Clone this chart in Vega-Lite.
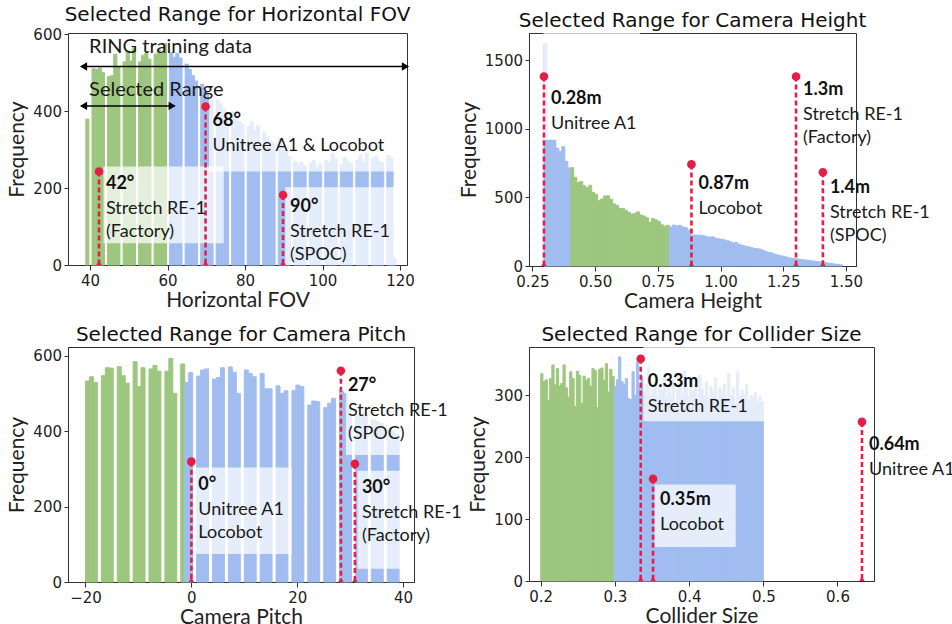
{
"$schema": "https://vega.github.io/schema/vega-lite/v6.json",
"background": "white",
"padding": {"left": 6, "top": 4, "right": 0, "bottom": 0},
"config": {
 "font": "Lato",
 "view": {"stroke": "#333", "strokeWidth": 1},
 "axis": {"labelFont": "DejaVu Sans", "labelFontSize": 15, "labelColor": "#222", "titleFont": "Lato", "titleFontSize": 21, "titleFontWeight": "normal", "titleColor": "#222", "grid": false, "domainColor": "#333", "tickColor": "#333", "tickSize": 5, "labelPadding": 3, "labelFlush": false, "labelOverlap": false},
 "axisX": {"titlePadding": 1},
 "axisY": {"titlePadding": 5, "tickSize": 4, "labelPadding": 2.5, "format": "d"},
 "title": {"font": "DejaVu Sans", "fontSize": 20, "fontWeight": "normal", "color": "#111", "offset": 2}
},
"datasets": {
 "d1": [
  {"v":39.6,"c":379,"g":"s"},{"v":40.6,"c":510,"g":"s"},{"v":41.6,"c":508,"g":"s"},{"v":42.6,"c":512,"g":"s"},{"v":43.6,"c":500,"g":"s"},{"v":44.6,"c":490,"g":"s"},{"v":45.6,"c":492,"g":"s"},{"v":46.6,"c":548,"g":"s"},{"v":47.6,"c":515,"g":"s"},{"v":48.6,"c":528,"g":"s"},{"v":49.6,"c":556,"g":"s"},{"v":50.6,"c":530,"g":"s"},{"v":51.6,"c":562,"g":"s"},{"v":52.6,"c":528,"g":"s"},{"v":53.6,"c":545,"g":"s"},{"v":54.6,"c":550,"g":"s"},{"v":55.6,"c":535,"g":"s"},{"v":56.6,"c":548,"g":"s"},{"v":57.6,"c":560,"g":"s"},{"v":58.6,"c":552,"g":"s"},{"v":59.6,"c":576,"g":"s"},
  {"v":60.6,"c":552,"g":"o"},{"v":61.6,"c":540,"g":"o"},{"v":62.6,"c":550,"g":"o"},{"v":63.6,"c":538,"g":"o"},{"v":64.6,"c":522,"g":"o"},{"v":65.6,"c":508,"g":"o"},{"v":66.6,"c":492,"g":"o"},{"v":67.6,"c":478,"g":"o"},{"v":68.6,"c":470,"g":"o"},{"v":69.6,"c":452,"g":"o"},{"v":70.6,"c":440,"g":"o"},{"v":71.6,"c":428,"g":"o"},{"v":72.6,"c":430,"g":"o"},{"v":73.6,"c":420,"g":"o"},{"v":74.6,"c":405,"g":"o"},{"v":75.6,"c":392,"g":"o"},{"v":76.6,"c":398,"g":"o"},{"v":77.6,"c":385,"g":"o"},{"v":78.6,"c":372,"g":"o"},{"v":79.6,"c":365,"g":"o"},{"v":80.6,"c":360,"g":"o"},{"v":81.6,"c":372,"g":"o"},{"v":82.6,"c":350,"g":"o"},{"v":83.6,"c":362,"g":"o"},{"v":84.6,"c":346,"g":"o"},{"v":85.6,"c":332,"g":"o"},{"v":86.6,"c":322,"g":"o"},{"v":87.6,"c":316,"g":"o"},{"v":88.6,"c":330,"g":"o"},{"v":89.6,"c":300,"g":"o"},{"v":90.6,"c":295,"g":"o"},{"v":91.6,"c":282,"g":"o"},{"v":92.6,"c":268,"g":"o"},{"v":93.6,"c":262,"g":"o"},{"v":94.6,"c":268,"g":"o"},{"v":95.6,"c":258,"g":"o"},{"v":96.6,"c":265,"g":"o"},{"v":97.6,"c":272,"g":"o"},{"v":98.6,"c":255,"g":"o"},{"v":99.6,"c":262,"g":"o"},{"v":100.6,"c":272,"g":"o"},{"v":101.6,"c":266,"g":"o"},{"v":102.6,"c":290,"g":"o"},{"v":103.6,"c":275,"g":"o"},{"v":104.6,"c":262,"g":"o"},{"v":105.6,"c":280,"g":"o"},{"v":106.6,"c":270,"g":"o"},{"v":107.6,"c":264,"g":"o"},{"v":108.6,"c":272,"g":"o"},{"v":109.6,"c":286,"g":"o"},{"v":110.6,"c":268,"g":"o"},{"v":111.6,"c":290,"g":"o"},{"v":112.6,"c":278,"g":"o"},{"v":113.6,"c":282,"g":"o"},{"v":114.6,"c":270,"g":"o"},{"v":115.6,"c":266,"g":"o"},{"v":116.6,"c":285,"g":"o"},{"v":117.6,"c":278,"g":"o"},{"v":118.6,"c":18,"g":"o"}
 ],
 "b1": [
  {"x":43.45,"x2":74.5,"y":56.4,"y2":255.7},
  {"x":70.7,"x2":125,"y":242.7,"y2":470},
  {"x":90.4,"x2":125,"y":-10,"y2":202}
 ],
 "m1": [
  {"x":42.3,"top":243,"ly":197,"val":"42°","desc":"Stretch RE-1\n(Factory)"},
  {"x":69.8,"top":412,"ly":360,"val":"68°","desc":"Unitree A1 & Locobot"},
  {"x":89.8,"top":182,"ly":139,"val":"90°","desc":"Stretch RE-1\n(SPOC)"}
 ],
 "a1": [
  {"x":38.3,"x2":121.4,"y":516,"t":"RING training data","tx":39.75,"ty":552},
  {"x":38.3,"x2":61.2,"y":413.5,"t":"Selected Range","tx":39.75,"ty":440}
 ],
 "d2": [
  {"v":0.30195,"c":1620,"g":"o"},{"v":0.31385,"c":920,"g":"o"},{"v":0.32575,"c":922,"g":"o"},{"v":0.33765,"c":918,"g":"o"},{"v":0.34955,"c":858,"g":"o"},{"v":0.36145,"c":834,"g":"o"},{"v":0.37335,"c":870,"g":"o"},{"v":0.38525,"c":762,"g":"o"},{"v":0.39715,"c":714,"g":"o"},
  {"v":0.40905,"c":716,"g":"s"},{"v":0.42095,"c":645,"g":"s"},{"v":0.43285,"c":608,"g":"s"},{"v":0.44475,"c":615,"g":"s"},{"v":0.45665,"c":584,"g":"s"},{"v":0.46855,"c":570,"g":"s"},{"v":0.48045,"c":588,"g":"s"},{"v":0.49235,"c":536,"g":"s"},{"v":0.50425,"c":522,"g":"s"},{"v":0.51615,"c":476,"g":"s"},{"v":0.52805,"c":488,"g":"s"},{"v":0.53995,"c":510,"g":"s"},{"v":0.55185,"c":512,"g":"s"},{"v":0.56375,"c":486,"g":"s"},{"v":0.57565,"c":452,"g":"s"},{"v":0.58755,"c":440,"g":"s"},{"v":0.59945,"c":420,"g":"s"},{"v":0.61135,"c":418,"g":"s"},{"v":0.62325,"c":406,"g":"s"},{"v":0.63515,"c":390,"g":"s"},{"v":0.64705,"c":378,"g":"s"},{"v":0.65895,"c":384,"g":"s"},{"v":0.67085,"c":394,"g":"s"},{"v":0.68275,"c":372,"g":"s"},{"v":0.69465,"c":364,"g":"s"},{"v":0.70655,"c":352,"g":"s"},{"v":0.71845,"c":318,"g":"s"},{"v":0.73035,"c":346,"g":"s"},{"v":0.74225,"c":336,"g":"s"},{"v":0.75415,"c":326,"g":"s"},{"v":0.76605,"c":300,"g":"s"},{"v":0.77795,"c":290,"g":"s"},{"v":0.78985,"c":296,"g":"s"},
  {"v":0.80175,"c":284,"g":"o"},{"v":0.81365,"c":298,"g":"o"},{"v":0.82555,"c":292,"g":"o"},{"v":0.83745,"c":296,"g":"o"},{"v":0.84935,"c":285,"g":"o"},{"v":0.86125,"c":280,"g":"o"},{"v":0.87315,"c":262,"g":"o"},{"v":0.88505,"c":250,"g":"o"},{"v":0.89695,"c":238,"g":"o"},{"v":0.90885,"c":232,"g":"o"},{"v":0.92075,"c":228,"g":"o"},{"v":0.93265,"c":220,"g":"o"},{"v":0.94455,"c":214,"g":"o"},{"v":0.95645,"c":210,"g":"o"},{"v":0.96835,"c":212,"g":"o"},{"v":0.98025,"c":203,"g":"o"},{"v":0.99215,"c":198,"g":"o"},{"v":1.00405,"c":195,"g":"o"},{"v":1.01595,"c":190,"g":"o"},{"v":1.02785,"c":184,"g":"o"},{"v":1.03975,"c":176,"g":"o"},{"v":1.05165,"c":168,"g":"o"},{"v":1.06355,"c":170,"g":"o"},{"v":1.07545,"c":158,"g":"o"},{"v":1.08735,"c":150,"g":"o"},{"v":1.09925,"c":145,"g":"o"},{"v":1.11115,"c":140,"g":"o"},{"v":1.12305,"c":135,"g":"o"},{"v":1.13495,"c":128,"g":"o"},{"v":1.14685,"c":126,"g":"o"},{"v":1.15875,"c":122,"g":"o"},{"v":1.17065,"c":112,"g":"o"},{"v":1.18255,"c":104,"g":"o"},{"v":1.19445,"c":98,"g":"o"},{"v":1.20635,"c":94,"g":"o"},{"v":1.21825,"c":86,"g":"o"},{"v":1.23015,"c":80,"g":"o"},{"v":1.24205,"c":74,"g":"o"},{"v":1.25395,"c":70,"g":"o"},{"v":1.26585,"c":64,"g":"o"},{"v":1.27775,"c":58,"g":"o"},{"v":1.28965,"c":55,"g":"o"},{"v":1.30155,"c":52,"g":"o"},{"v":1.31345,"c":50,"g":"o"},{"v":1.32535,"c":46,"g":"o"},{"v":1.33725,"c":44,"g":"o"},{"v":1.34915,"c":42,"g":"o"},{"v":1.36105,"c":38,"g":"o"},{"v":1.37295,"c":36,"g":"o"},{"v":1.38485,"c":32,"g":"o"},{"v":1.39675,"c":30,"g":"o"},{"v":1.40865,"c":28,"g":"o"},{"v":1.42055,"c":24,"g":"o"},{"v":1.43245,"c":20,"g":"o"},{"v":1.44435,"c":18,"g":"o"},{"v":1.45625,"c":14,"g":"o"},{"v":1.46815,"c":12,"g":"o"},{"v":1.48005,"c":8,"g":"o"}
 ],
 "b2": [
  {"x":0.294,"x2":0.68,"y":918,"y2":1750},
  {"x":0.884,"x2":1.04,"y":225,"y2":720}
 ],
 "m2": [
  {"x":0.296,"top":1380,"ly":1178,"val":"0.28m","desc":"Unitree A1"},
  {"x":0.884,"top":740,"ly":558,"val":"0.87m","desc":"Locobot"},
  {"x":1.301,"top":1380,"ly":1243,"val":"1.3m","desc":"Stretch RE-1\n(Factory)"},
  {"x":1.408,"top":683,"ly":534,"val":"1.4m","desc":"Stretch RE-1\n(SPOC)"}
 ],
 "d3": [
  {"v":-19.9,"c":533,"g":"s"},{"v":-18.9,"c":544,"g":"s"},{"v":-17.9,"c":529,"g":"s"},{"v":-16.9,"c":547,"g":"s"},{"v":-15.9,"c":568,"g":"s"},{"v":-14.9,"c":567,"g":"s"},{"v":-13.9,"c":571,"g":"s"},{"v":-12.9,"c":547,"g":"s"},{"v":-11.9,"c":527,"g":"s"},{"v":-10.9,"c":584,"g":"s"},{"v":-9.9,"c":518,"g":"s"},{"v":-8.9,"c":568,"g":"s"},{"v":-7.9,"c":565,"g":"s"},{"v":-6.9,"c":574,"g":"s"},{"v":-5.9,"c":559,"g":"s"},{"v":-4.9,"c":559,"g":"s"},{"v":-3.9,"c":593,"g":"s"},{"v":-2.9,"c":500,"g":"s"},{"v":-1.9,"c":578,"g":"s"},
  {"v":-0.9,"c":529,"g":"o"},{"v":0.1,"c":555,"g":"o"},{"v":1.1,"c":546,"g":"o"},{"v":2.1,"c":562,"g":"o"},{"v":3.1,"c":565,"g":"o"},{"v":4.1,"c":538,"g":"o"},{"v":5.1,"c":542,"g":"o"},{"v":6.1,"c":568,"g":"o"},{"v":7.1,"c":570,"g":"o"},{"v":8.1,"c":556,"g":"o"},{"v":9.1,"c":500,"g":"o"},{"v":10.1,"c":562,"g":"o"},{"v":11.1,"c":553,"g":"o"},{"v":12.1,"c":544,"g":"o"},{"v":13.1,"c":553,"g":"o"},{"v":14.1,"c":512,"g":"o"},{"v":15.1,"c":512,"g":"o"},{"v":16.1,"c":520,"g":"o"},{"v":17.1,"c":500,"g":"o"},{"v":18.1,"c":507,"g":"o"},{"v":19.1,"c":508,"g":"o"},{"v":20.1,"c":522,"g":"o"},{"v":21.1,"c":518,"g":"o"},{"v":22.1,"c":469,"g":"o"},{"v":23.1,"c":480,"g":"o"},{"v":24.1,"c":478,"g":"o"},{"v":25.1,"c":462,"g":"o"},{"v":26.1,"c":474,"g":"o"},{"v":27.1,"c":487,"g":"o"},{"v":28.1,"c":505,"g":"o"},{"v":29.1,"c":500,"g":"o"},{"v":30.1,"c":460,"g":"o"},{"v":31.1,"c":445,"g":"o"},{"v":32.1,"c":440,"g":"o"},{"v":33.1,"c":450,"g":"o"},{"v":34.1,"c":430,"g":"o"},{"v":35.1,"c":425,"g":"o"},{"v":36.1,"c":420,"g":"o"},{"v":37.1,"c":408,"g":"o"},{"v":38.1,"c":400,"g":"o"},{"v":39.1,"c":392,"g":"o"}
 ],
 "b3": [
  {"x":0.62,"x2":18.95,"y":74,"y2":303.5},
  {"x":29.2,"x2":45,"y":337,"y2":620},
  {"x":31.4,"x2":45,"y":35,"y2":295}
 ],
 "m3": [
  {"x":0,"top":319,"ly":244.5,"val":"0°","desc":"Unitree A1\nLocobot"},
  {"x":28.25,"top":560,"ly":507,"val":"27°","desc":"Stretch RE-1\n(SPOC)"},
  {"x":30.9,"top":313,"ly":235.6,"val":"30°","desc":"Stretch RE-1\n(Factory)"}
 ],
 "d4": [
  {"v":0.2015,"c":335,"g":"s"},{"v":0.2045,"c":322,"g":"s"},{"v":0.2075,"c":325,"g":"s"},{"v":0.2105,"c":292,"g":"s"},{"v":0.2135,"c":327,"g":"s"},{"v":0.2165,"c":349,"g":"s"},{"v":0.2195,"c":317,"g":"s"},{"v":0.2225,"c":343,"g":"s"},{"v":0.2255,"c":315,"g":"s"},{"v":0.2285,"c":319,"g":"s"},{"v":0.2315,"c":349,"g":"s"},{"v":0.2345,"c":312,"g":"s"},{"v":0.2375,"c":297,"g":"s"},{"v":0.2405,"c":338,"g":"s"},{"v":0.2435,"c":327,"g":"s"},{"v":0.2465,"c":282,"g":"s"},{"v":0.2495,"c":339,"g":"s"},{"v":0.2525,"c":332,"g":"s"},{"v":0.2555,"c":287,"g":"s"},{"v":0.2585,"c":331,"g":"s"},{"v":0.2615,"c":324,"g":"s"},{"v":0.2645,"c":327,"g":"s"},{"v":0.2675,"c":314,"g":"s"},{"v":0.2705,"c":343,"g":"s"},{"v":0.2735,"c":340,"g":"s"},{"v":0.2765,"c":280,"g":"s"},{"v":0.2795,"c":342,"g":"s"},{"v":0.2825,"c":344,"g":"s"},{"v":0.2855,"c":324,"g":"s"},{"v":0.2885,"c":351,"g":"s"},{"v":0.2915,"c":305,"g":"s"},{"v":0.2945,"c":342,"g":"s"},{"v":0.2975,"c":330,"g":"s"},
  {"v":0.3005,"c":314,"g":"o"},{"v":0.3035,"c":325,"g":"o"},{"v":0.3065,"c":362,"g":"o"},{"v":0.3095,"c":322,"g":"o"},{"v":0.3125,"c":318,"g":"o"},{"v":0.3155,"c":327,"g":"o"},{"v":0.3185,"c":295,"g":"o"},{"v":0.3215,"c":293,"g":"o"},{"v":0.3245,"c":338,"g":"o"},{"v":0.3275,"c":300,"g":"o"},{"v":0.3305,"c":354,"g":"o"},{"v":0.3335,"c":312,"g":"o"},{"v":0.3365,"c":330,"g":"o"},{"v":0.3395,"c":305,"g":"o"},{"v":0.3425,"c":318,"g":"o"},{"v":0.3455,"c":345,"g":"o"},{"v":0.3485,"c":300,"g":"o"},{"v":0.3515,"c":310,"g":"o"},{"v":0.3545,"c":322,"g":"o"},{"v":0.3575,"c":296,"g":"o"},{"v":0.3605,"c":315,"g":"o"},{"v":0.3635,"c":308,"g":"o"},{"v":0.3665,"c":330,"g":"o"},{"v":0.3695,"c":298,"g":"o"},{"v":0.3725,"c":318,"g":"o"},{"v":0.3755,"c":302,"g":"o"},{"v":0.3785,"c":325,"g":"o"},{"v":0.3815,"c":288,"g":"o"},{"v":0.3845,"c":310,"g":"o"},{"v":0.3875,"c":320,"g":"o"},{"v":0.3905,"c":300,"g":"o"},{"v":0.3935,"c":340,"g":"o"},{"v":0.3965,"c":312,"g":"o"},{"v":0.3995,"c":298,"g":"o"},{"v":0.4025,"c":326,"g":"o"},{"v":0.4055,"c":306,"g":"o"},{"v":0.4085,"c":318,"g":"o"},{"v":0.4115,"c":290,"g":"o"},{"v":0.4145,"c":332,"g":"o"},{"v":0.4175,"c":310,"g":"o"},{"v":0.4205,"c":300,"g":"o"},{"v":0.4235,"c":322,"g":"o"},{"v":0.4265,"c":296,"g":"o"},{"v":0.4295,"c":314,"g":"o"},{"v":0.4325,"c":304,"g":"o"},{"v":0.4355,"c":328,"g":"o"},{"v":0.4385,"c":292,"g":"o"},{"v":0.4415,"c":312,"g":"o"},{"v":0.4445,"c":306,"g":"o"},{"v":0.4475,"c":318,"g":"o"},{"v":0.4505,"c":296,"g":"o"},{"v":0.4535,"c":335,"g":"o"},{"v":0.4565,"c":300,"g":"o"},{"v":0.4595,"c":312,"g":"o"},{"v":0.4625,"c":285,"g":"o"},{"v":0.4655,"c":338,"g":"o"},{"v":0.4685,"c":298,"g":"o"},{"v":0.4715,"c":308,"g":"o"},{"v":0.4745,"c":302,"g":"o"},{"v":0.4775,"c":318,"g":"o"},{"v":0.4805,"c":292,"g":"o"},{"v":0.4835,"c":300,"g":"o"},{"v":0.4865,"c":296,"g":"o"},{"v":0.4895,"c":304,"g":"o"},{"v":0.4925,"c":288,"g":"o"},{"v":0.4955,"c":298,"g":"o"},{"v":0.4985,"c":290,"g":"o"}
 ],
 "b4": [
  {"x":0.3384,"x2":0.51,"y":258,"y2":400},
  {"x":0.3536,"x2":0.4628,"y":55,"y2":156}
 ],
 "m4": [
  {"x":0.3348,"top":359,"ly":313.5,"val":"0.33m","desc":"Stretch RE-1"},
  {"x":0.3514,"top":165,"ly":122,"val":"0.35m","desc":"Locobot"},
  {"x":0.633,"top":257,"ly":211,"val":"0.64m","desc":"Unitree A1"}
 ]
},
"bounds": "flush",
"columns": 2,
"spacing": {"row": 81, "column": 115},
"concat": [
  {"width": 339, "height": 232, "title": "Selected Range for Horizontal FOV",
   "layer": [
    {"data": {"name": "d1"}, "transform": [{"bin": {"step": 0.801, "extent": [38.9, 119.8], "nice": false}, "field": "v", "as": ["b0", "b1"]}],
     "mark": {"type": "rect", "strokeWidth": 1},
     "encoding": {
      "x": {"field": "b0", "type": "quantitative", "title": "Horizontal FOV", "scale": {"domain": [34.3, 121.8], "nice": false, "zero": false}, "axis": {"values": [40, 60, 80, 100, 120]}},
      "x2": {"field": "b1"},
      "y": {"field": "c", "type": "quantitative", "title": "Frequency", "scale": {"domain": [0, 603], "nice": false}, "axis": {"values": [0, 100, 200, 300, 400, 500, 600]}},
      "y2": {"datum": 0},
      "fill": {"field": "g", "type": "nominal", "scale": {"domain": ["s", "o"], "range": ["#9dc67f", "#a1bdf0"]}, "legend": null},
      "stroke": {"field": "g", "type": "nominal", "scale": {"domain": ["s", "o"], "range": ["#9dc67f", "#a1bdf0"]}, "legend": null}}},
    {"data": {"name": "b1"}, "mark": {"type": "rect", "fill": "white", "opacity": 0.72, "clip": true},
     "encoding": {"x": {"field": "x", "type": "quantitative", "title": "Horizontal FOV"}, "x2": {"field": "x2"}, "y": {"field": "y", "type": "quantitative", "title": "Frequency"}, "y2": {"field": "y2"}}},
    {"data": {"name": "m1"}, "mark": {"type": "rule", "color": "#e41e46", "strokeWidth": 2.6, "strokeDash": [5, 3]},
     "encoding": {"x": {"field": "x", "type": "quantitative", "title": "Horizontal FOV"}, "y": {"field": "top", "type": "quantitative", "title": "Frequency"}, "y2": {"datum": 0}}},
    {"data": {"name": "m1"}, "mark": {"type": "point", "shape": "circle", "filled": true, "size": 75, "color": "#e41e46", "opacity": 1},
     "encoding": {"x": {"field": "x", "type": "quantitative", "title": "Horizontal FOV"}, "y": {"field": "top", "type": "quantitative", "title": "Frequency"}}},
    {"data": {"name": "m1"}, "mark": {"type": "point", "shape": "triangle-up", "filled": true, "size": 110, "color": "#e41e46", "opacity": 1, "clip": true},
     "encoding": {"x": {"field": "x", "type": "quantitative", "title": "Horizontal FOV"}, "y": {"datum": 0}}},
    {"data": {"name": "m1"}, "mark": {"type": "text", "align": "left", "baseline": "alphabetic", "dx": 7, "font": "Lato", "fontSize": 18, "fontWeight": "bold", "color": "#111"},
     "encoding": {"x": {"field": "x", "type": "quantitative", "title": "Horizontal FOV"}, "y": {"field": "ly", "type": "quantitative", "title": "Frequency"}, "text": {"field": "val"}}},
    {"data": {"name": "m1"}, "mark": {"type": "text", "align": "left", "baseline": "alphabetic", "dx": 7, "dy": 25, "lineBreak": "\n", "lineHeight": 23, "font": "Lato", "fontSize": 18, "color": "#1a1a1a"},
     "encoding": {"x": {"field": "x", "type": "quantitative", "title": "Horizontal FOV"}, "y": {"field": "ly", "type": "quantitative", "title": "Frequency"}, "text": {"field": "desc"}}},
    {"data": {"name": "a1"}, "mark": {"type": "rule", "color": "black", "strokeWidth": 1.5},
     "encoding": {"x": {"field": "x", "type": "quantitative", "title": "Horizontal FOV"}, "x2": {"field": "x2"}, "y": {"field": "y", "type": "quantitative", "title": "Frequency"}}},
    {"data": {"name": "a1"}, "mark": {"type": "point", "shape": "triangle-left", "filled": true, "size": 70, "color": "black", "opacity": 1},
     "encoding": {"x": {"field": "x", "type": "quantitative", "title": "Horizontal FOV"}, "y": {"field": "y", "type": "quantitative", "title": "Frequency"}}},
    {"data": {"name": "a1"}, "mark": {"type": "point", "shape": "triangle-right", "filled": true, "size": 70, "color": "black", "opacity": 1},
     "encoding": {"x": {"field": "x2", "type": "quantitative", "title": "Horizontal FOV"}, "y": {"field": "y", "type": "quantitative", "title": "Frequency"}}},
    {"data": {"name": "a1"}, "mark": {"type": "text", "align": "left", "baseline": "alphabetic", "font": "Lato", "fontSize": 20, "color": "#1a1a1a"},
     "encoding": {"x": {"field": "tx", "type": "quantitative", "title": "Horizontal FOV"}, "y": {"field": "ty", "type": "quantitative", "title": "Frequency"}, "text": {"field": "t"}}}
   ]},
  {"width": 327, "height": 233, "title": "Selected Range for Camera Height",
   "layer": [
    {"data": {"name": "d2"}, "transform": [{"bin": {"step": 0.0119, "extent": [0.296, 1.4979], "nice": false}, "field": "v", "as": ["b0", "b1"]}],
     "mark": {"type": "rect", "strokeWidth": 1},
     "encoding": {
      "x": {"field": "b0", "type": "quantitative", "title": "Camera Height", "scale": {"domain": [0.2365, 1.54], "nice": false, "zero": false}, "axis": {"values": [0.25, 0.5, 0.75, 1, 1.25, 1.5], "format": ".2f"}},
      "x2": {"field": "b1"},
      "y": {"field": "c", "type": "quantitative", "title": "Frequency", "scale": {"domain": [0, 1697], "nice": false}, "axis": {"values": [0, 250, 500, 750, 1000, 1250, 1500]}},
      "y2": {"datum": 0},
      "fill": {"field": "g", "type": "nominal", "scale": {"domain": ["s", "o"], "range": ["#9dc67f", "#a1bdf0"]}, "legend": null},
      "stroke": {"field": "g", "type": "nominal", "scale": {"domain": ["s", "o"], "range": ["#9dc67f", "#a1bdf0"]}, "legend": null}}},
    {"data": {"name": "b2"}, "mark": {"type": "rect", "fill": "white", "opacity": 0.72, "clip": true},
     "encoding": {"x": {"field": "x", "type": "quantitative", "title": "Camera Height"}, "x2": {"field": "x2"}, "y": {"field": "y", "type": "quantitative", "title": "Frequency"}, "y2": {"field": "y2"}}},
    {"data": {"name": "m2"}, "mark": {"type": "rule", "color": "#e41e46", "strokeWidth": 2.6, "strokeDash": [5, 3]},
     "encoding": {"x": {"field": "x", "type": "quantitative", "title": "Camera Height"}, "y": {"field": "top", "type": "quantitative", "title": "Frequency"}, "y2": {"datum": 0}}},
    {"data": {"name": "m2"}, "mark": {"type": "point", "shape": "circle", "filled": true, "size": 75, "color": "#e41e46", "opacity": 1},
     "encoding": {"x": {"field": "x", "type": "quantitative", "title": "Camera Height"}, "y": {"field": "top", "type": "quantitative", "title": "Frequency"}}},
    {"data": {"name": "m2"}, "mark": {"type": "point", "shape": "triangle-up", "filled": true, "size": 110, "color": "#e41e46", "opacity": 1, "clip": true},
     "encoding": {"x": {"field": "x", "type": "quantitative", "title": "Camera Height"}, "y": {"datum": 0}}},
    {"data": {"name": "m2"}, "mark": {"type": "text", "align": "left", "baseline": "alphabetic", "dx": 7, "font": "Lato", "fontSize": 18, "fontWeight": "bold", "color": "#111"},
     "encoding": {"x": {"field": "x", "type": "quantitative", "title": "Camera Height"}, "y": {"field": "ly", "type": "quantitative", "title": "Frequency"}, "text": {"field": "val"}}},
    {"data": {"name": "m2"}, "mark": {"type": "text", "align": "left", "baseline": "alphabetic", "dx": 7, "dy": 25, "lineBreak": "\n", "lineHeight": 23, "font": "Lato", "fontSize": 18, "color": "#1a1a1a"},
     "encoding": {"x": {"field": "x", "type": "quantitative", "title": "Camera Height"}, "y": {"field": "ly", "type": "quantitative", "title": "Frequency"}, "text": {"field": "desc"}}}
   ]},
  {"width": 346, "height": 235, "title": "Selected Range for Camera Pitch",
   "layer": [
    {"data": {"name": "d3"}, "transform": [{"bin": {"step": 0.75, "extent": [-20, 40.75], "nice": false}, "field": "v", "as": ["b0", "b1"]}],
     "mark": {"type": "rect", "strokeWidth": 1},
     "encoding": {
      "x": {"field": "b0", "type": "quantitative", "title": "Camera Pitch", "scale": {"domain": [-23.3, 42.06], "nice": false, "zero": false}, "axis": {"values": [-20, 0, 20, 40]}},
      "x2": {"field": "b1"},
      "y": {"field": "c", "type": "quantitative", "title": "Frequency", "scale": {"domain": [0, 623], "nice": false}, "axis": {"values": [0, 100, 200, 300, 400, 500, 600]}},
      "y2": {"datum": 0},
      "fill": {"field": "g", "type": "nominal", "scale": {"domain": ["s", "o"], "range": ["#9dc67f", "#a1bdf0"]}, "legend": null},
      "stroke": {"field": "g", "type": "nominal", "scale": {"domain": ["s", "o"], "range": ["#9dc67f", "#a1bdf0"]}, "legend": null}}},
    {"data": {"name": "b3"}, "mark": {"type": "rect", "fill": "white", "opacity": 0.72, "clip": true},
     "encoding": {"x": {"field": "x", "type": "quantitative", "title": "Camera Pitch"}, "x2": {"field": "x2"}, "y": {"field": "y", "type": "quantitative", "title": "Frequency"}, "y2": {"field": "y2"}}},
    {"data": {"name": "m3"}, "mark": {"type": "rule", "color": "#e41e46", "strokeWidth": 2.6, "strokeDash": [5, 3]},
     "encoding": {"x": {"field": "x", "type": "quantitative", "title": "Camera Pitch"}, "y": {"field": "top", "type": "quantitative", "title": "Frequency"}, "y2": {"datum": 0}}},
    {"data": {"name": "m3"}, "mark": {"type": "point", "shape": "circle", "filled": true, "size": 75, "color": "#e41e46", "opacity": 1},
     "encoding": {"x": {"field": "x", "type": "quantitative", "title": "Camera Pitch"}, "y": {"field": "top", "type": "quantitative", "title": "Frequency"}}},
    {"data": {"name": "m3"}, "mark": {"type": "point", "shape": "triangle-up", "filled": true, "size": 110, "color": "#e41e46", "opacity": 1, "clip": true},
     "encoding": {"x": {"field": "x", "type": "quantitative", "title": "Camera Pitch"}, "y": {"datum": 0}}},
    {"data": {"name": "m3"}, "mark": {"type": "text", "align": "left", "baseline": "alphabetic", "dx": 7, "font": "Lato", "fontSize": 18, "fontWeight": "bold", "color": "#111"},
     "encoding": {"x": {"field": "x", "type": "quantitative", "title": "Camera Pitch"}, "y": {"field": "ly", "type": "quantitative", "title": "Frequency"}, "text": {"field": "val"}}},
    {"data": {"name": "m3"}, "mark": {"type": "text", "align": "left", "baseline": "alphabetic", "dx": 7, "dy": 25, "lineBreak": "\n", "lineHeight": 23, "font": "Lato", "fontSize": 18, "color": "#1a1a1a"},
     "encoding": {"x": {"field": "x", "type": "quantitative", "title": "Camera Pitch"}, "y": {"field": "ly", "type": "quantitative", "title": "Frequency"}, "text": {"field": "desc"}}}
   ]},
  {"width": 345, "height": 234, "title": "Selected Range for Collider Size",
   "layer": [
    {"data": {"name": "d4"}, "transform": [{"bin": {"step": 0.003, "extent": [0.2, 0.503], "nice": false}, "field": "v", "as": ["b0", "b1"]}],
     "mark": {"type": "rect", "strokeWidth": 1},
     "encoding": {
      "x": {"field": "b0", "type": "quantitative", "title": "Collider Size", "scale": {"domain": [0.1842, 0.6492], "nice": false, "zero": false}, "axis": {"values": [0.2, 0.3, 0.4, 0.5, 0.6], "format": ".1f"}},
      "x2": {"field": "b1"},
      "y": {"field": "c", "type": "quantitative", "title": "Frequency", "scale": {"domain": [0, 378], "nice": false}, "axis": {"values": [0, 100, 200, 300]}},
      "y2": {"datum": 0},
      "fill": {"field": "g", "type": "nominal", "scale": {"domain": ["s", "o"], "range": ["#9dc67f", "#a1bdf0"]}, "legend": null},
      "stroke": {"field": "g", "type": "nominal", "scale": {"domain": ["s", "o"], "range": ["#9dc67f", "#a1bdf0"]}, "legend": null}}},
    {"data": {"name": "b4"}, "mark": {"type": "rect", "fill": "white", "opacity": 0.72, "clip": true},
     "encoding": {"x": {"field": "x", "type": "quantitative", "title": "Collider Size"}, "x2": {"field": "x2"}, "y": {"field": "y", "type": "quantitative", "title": "Frequency"}, "y2": {"field": "y2"}}},
    {"data": {"name": "m4"}, "mark": {"type": "rule", "color": "#e41e46", "strokeWidth": 2.6, "strokeDash": [5, 3]},
     "encoding": {"x": {"field": "x", "type": "quantitative", "title": "Collider Size"}, "y": {"field": "top", "type": "quantitative", "title": "Frequency"}, "y2": {"datum": 0}}},
    {"data": {"name": "m4"}, "mark": {"type": "point", "shape": "circle", "filled": true, "size": 75, "color": "#e41e46", "opacity": 1},
     "encoding": {"x": {"field": "x", "type": "quantitative", "title": "Collider Size"}, "y": {"field": "top", "type": "quantitative", "title": "Frequency"}}},
    {"data": {"name": "m4"}, "mark": {"type": "point", "shape": "triangle-up", "filled": true, "size": 110, "color": "#e41e46", "opacity": 1, "clip": true},
     "encoding": {"x": {"field": "x", "type": "quantitative", "title": "Collider Size"}, "y": {"datum": 0}}},
    {"data": {"name": "m4"}, "mark": {"type": "text", "align": "left", "baseline": "alphabetic", "dx": 7, "font": "Lato", "fontSize": 18, "fontWeight": "bold", "color": "#111"},
     "encoding": {"x": {"field": "x", "type": "quantitative", "title": "Collider Size"}, "y": {"field": "ly", "type": "quantitative", "title": "Frequency"}, "text": {"field": "val"}}},
    {"data": {"name": "m4"}, "mark": {"type": "text", "align": "left", "baseline": "alphabetic", "dx": 7, "dy": 25, "lineBreak": "\n", "lineHeight": 23, "font": "Lato", "fontSize": 18, "color": "#1a1a1a"},
     "encoding": {"x": {"field": "x", "type": "quantitative", "title": "Collider Size"}, "y": {"field": "ly", "type": "quantitative", "title": "Frequency"}, "text": {"field": "desc"}}}
   ]}
]
}
